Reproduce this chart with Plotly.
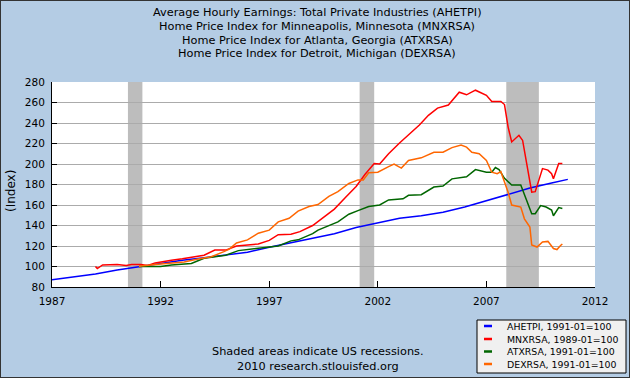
import plotly.graph_objects as go

# ---------------- data ----------------
ahetpi_dates = ["1987-01", "1988-01", "1989-01", "1990-01", "1991-01", "1992-01", "1993-01",
                "1994-01", "1995-01", "1996-01", "1997-01", "1998-01", "1999-01", "2000-01",
                "2001-01", "2002-01", "2003-01", "2004-01", "2005-01", "2006-01", "2007-01",
                "2008-01", "2009-01", "2010-01", "2010-10"]
ahetpi_vals = [87, 89.5, 92.7, 96.5, 99.8, 103, 106, 108.5, 111, 114, 118.8, 123, 127.5, 132,
               138, 142.5, 147, 149.5, 153, 158, 164, 170.5, 176.5, 181.5, 185]

mnxrsa_dates = ["1989-01", "1989-02", "1989-05", "1990-01", "1990-06", "1990-09", "1991-02",
                "1991-06", "1991-10", "1992-01", "1992-07", "1993-01", "1993-07", "1994-01",
                "1994-07", "1995-01", "1995-07", "1996-01", "1996-07", "1997-01", "1997-06",
                "1998-01", "1998-06", "1999-01", "1999-05", "2000-01", "2000-07", "2001-01",
                "2001-06", "2001-11", "2002-02", "2002-07", "2003-01", "2003-06", "2003-12",
                "2004-05", "2004-10", "2005-04", "2005-10", "2006-02", "2006-07", "2007-01",
                "2007-04", "2007-09", "2007-11", "2008-01", "2008-03", "2008-07", "2008-09",
                "2009-02", "2009-04", "2009-08", "2009-11", "2010-01", "2010-02", "2010-05",
                "2010-07"]
mnxrsa_vals = [100, 98, 101.5, 102, 101, 102, 102, 101, 103.5, 104.5, 106, 107.5, 109, 111,
               116, 116, 120, 121, 122, 125.5, 131, 131.5, 134, 140, 145, 156, 167, 178,
               190, 200.5, 200, 210, 220.5, 228, 238, 247.5, 254.5, 257.5, 270, 267.5, 272,
               267, 261, 261, 258, 236, 221.5, 228, 223, 172.5, 173, 195.5, 194, 190.5,
               185.5, 200.5, 200.5]

atxrsa_dates = ["1991-01", "1991-06", "1992-01", "1992-07", "1993-01", "1993-06", "1994-01",
                "1995-01", "1995-08", "1996-01", "1997-01", "1997-06", "1998-01", "1998-05",
                "1999-01", "1999-04", "2000-03", "2000-09", "2001-02", "2001-08", "2002-02",
                "2002-07", "2003-03", "2003-06", "2004-01", "2004-08", "2005-01", "2005-06",
                "2006-02", "2006-07", "2007-01", "2007-04", "2007-06", "2007-08", "2007-11",
                "2008-03", "2008-08", "2009-02", "2009-04", "2009-07", "2009-10", "2010-01",
                "2010-02", "2010-05", "2010-07"]
atxrsa_vals = [100, 100, 100, 101.5, 102.5, 103, 108, 111, 115.5, 116.5, 119.5, 120, 125, 126,
               132, 135.5, 143.5, 151, 154.5, 158.5, 160, 165, 166, 169.5, 170, 177.5, 178.5,
               185.5, 187.5, 194.5, 192, 192, 196.5, 194.5, 186, 179.5, 179.5, 151.5, 151.5,
               159.5, 158, 155, 149.5, 157.5, 156.5]

dexrsa_dates = ["1991-01", "1991-02", "1992-01", "1993-02", "1993-09", "1994-05", "1994-12",
                "1995-03", "1995-07", "1996-01", "1996-07", "1997-01", "1997-06", "1997-12",
                "1998-05", "1998-11", "1999-04", "1999-10", "2000-03", "2000-09", "2001-02",
                "2001-05", "2001-08", "2002-01", "2002-07", "2002-10", "2003-01", "2003-02",
                "2003-06", "2004-01", "2004-08", "2005-01", "2005-06", "2005-11", "2006-02",
                "2006-05", "2006-09", "2007-01", "2007-04", "2007-07", "2007-09", "2007-11",
                "2008-01", "2008-03", "2008-08", "2008-10", "2009-01", "2009-02", "2009-05",
                "2009-08", "2009-11", "2010-02", "2010-04", "2010-06", "2010-07"]
dexrsa_vals = [100, 100.5, 102.5, 104.5, 107, 109.5, 114.5, 117, 123, 126, 132.5, 135.5, 143.5,
               147, 154, 158.5, 160.5, 168.5, 173, 181, 184.5, 184.5, 191.5, 192, 197.5, 200,
               197, 196, 203.5, 206, 211.5, 211.5, 216, 218.5, 216.5, 211.5, 210, 203.5, 192,
               190.5, 192.5, 182.5, 172.5, 160, 158, 146.5, 138.5, 121, 119, 124, 124.5,
               117.5, 116.5, 120.5, 122]

series_names = ["AHETPI", "MNXRSA", "ATXRSA", "DEXRSA"]
legend_labels = ["AHETPI, 1991-01=100", "MNXRSA, 1989-01=100",
                 "ATXRSA, 1991-01=100", "DEXRSA, 1991-01=100"]
series_colors = ["#0000FF", "#FF0000", "#006600", "#FF6600"]

title_lines = ["Average Hourly Earnings: Total Private Industries (AHETPI)",
               "Home Price Index for Minneapolis, Minnesota (MNXRSA)",
               "Home Price Index for Atlanta, Georgia (ATXRSA)",
               "Home Price Index for Detroit, Michigan (DEXRSA)"]

recessions = [("1990-07-01", "1991-03-01"), ("2001-03-01", "2001-11-01"),
              ("2007-12-01", "2009-06-01")]

x_tick_years = [1987, 1992, 1997, 2002, 2007, 2012]
y_ticks = list(range(80, 281, 20))

footer_lines = ["Shaded areas indicate US recessions.", "2010 research.stlouisfed.org"]

# ---------------- figure ----------------
W, H = 630, 378
ML, MR, MT, MB = 52, 35, 82, 91
PW, PH = W - ML - MR, H - MT - MB
FONT = "DejaVu Sans"
BG = "#B4CCE4"


def xp(px):
    return (px - ML) / PW


def yp(py):
    return (MT + PH - py) / PH


fig = go.Figure()
all_dates = [ahetpi_dates, mnxrsa_dates, atxrsa_dates, dexrsa_dates]
all_vals = [ahetpi_vals, mnxrsa_vals, atxrsa_vals, dexrsa_vals]
for name, d, v, c in zip(series_names, all_dates, all_vals, series_colors):
    fig.add_trace(go.Scatter(x=[s + "-01" for s in d], y=v, mode="lines", name=name,
                             line=dict(color=c, width=1.5), showlegend=False))

shapes = []
for a, b in recessions:
    shapes.append(dict(type="rect", xref="x", yref="paper", x0=a, x1=b, y0=0, y1=1,
                       fillcolor="#BDBDBD", line=dict(width=0), layer="between"))

# legend box (drawn manually to match the small original legend)
shapes.append(dict(type="rect", xref="paper", yref="paper", x0=xp(477), x1=xp(626),
                   y0=yp(373), y1=yp(320), fillcolor="#F0F0F0",
                   line=dict(color="#000000", width=1), layer="above"))
annotations = []
leg_y = [326, 339, 351.5, 364]
for lab, c, ly in zip(legend_labels, series_colors, leg_y):
    shapes.append(dict(type="line", xref="paper", yref="paper", x0=xp(484), x1=xp(492),
                       y0=yp(ly), y1=yp(ly), line=dict(color=c, width=2.5), layer="above"))
    annotations.append(dict(text=lab, xref="paper", yref="paper", x=xp(505), y=yp(ly),
                            xanchor="left", yanchor="middle", showarrow=False,
                            font=dict(family=FONT, size=9.4, color="#000000")))

# figure border
shapes.append(dict(type="rect", xref="paper", yref="paper", x0=xp(0), x1=xp(W),
                   y0=yp(H), y1=yp(0), line=dict(color="#333333", width=2),
                   fillcolor="rgba(0,0,0,0)", layer="above"))

for i, t in enumerate(title_lines):
    annotations.append(dict(text=t, xref="paper", yref="paper", x=xp(317), y=yp(12.5 + 13.8 * i),
                            xanchor="center", yanchor="middle", showarrow=False,
                            font=dict(family=FONT, size=11.3, color="#000000")))
for i, t in enumerate(footer_lines):
    annotations.append(dict(text=t, xref="paper", yref="paper", x=xp(318), y=yp(351.5 + 14.5 * i),
                            xanchor="center", yanchor="middle", showarrow=False,
                            font=dict(family=FONT, size=11.3, color="#000000")))
annotations.append(dict(text="(Index)", xref="paper", yref="paper", x=xp(11), y=yp(191),
                        xanchor="center", yanchor="middle", textangle=-90, showarrow=False,
                        font=dict(family=FONT, size=12, color="#000000")))

fig.update_layout(
    width=W, height=H,
    margin=dict(l=ML, r=MR, t=MT, b=MB, pad=0),
    paper_bgcolor=BG, plot_bgcolor="#FFFFFF",
    font=dict(family=FONT, size=10, color="#000000"),
    shapes=shapes, annotations=annotations,
    showlegend=False,
    xaxis=dict(type="date", range=["1987-01-01", "2012-01-01"],
               tickvals=[f"{y}-01-01" for y in x_tick_years],
               ticktext=[str(y) for y in x_tick_years],
               showgrid=False, zeroline=False, showline=True, linecolor="#000000", linewidth=1,
               ticks="inside", ticklen=6, tickcolor="#000000", tickwidth=1,
               ticklabelstandoff=4,
               tickfont=dict(family=FONT, size=10.5, color="#000000")),
    yaxis=dict(range=[80, 280], tickvals=y_ticks, ticktext=[str(v) for v in y_ticks],
               showgrid=True, gridcolor="#ABABAB", gridwidth=1, zeroline=False,
               showline=True, linecolor="#000000", linewidth=1,
               ticks="inside", ticklen=5, tickcolor="#000000", tickwidth=1,
               ticklabelstandoff=4,
               tickfont=dict(family=FONT, size=10.5, color="#000000")),
)

fig.write_html("out.html", config={"displayModeBar": False},
               post_script="document.body.style.margin='0';document.body.style.padding='0';")
